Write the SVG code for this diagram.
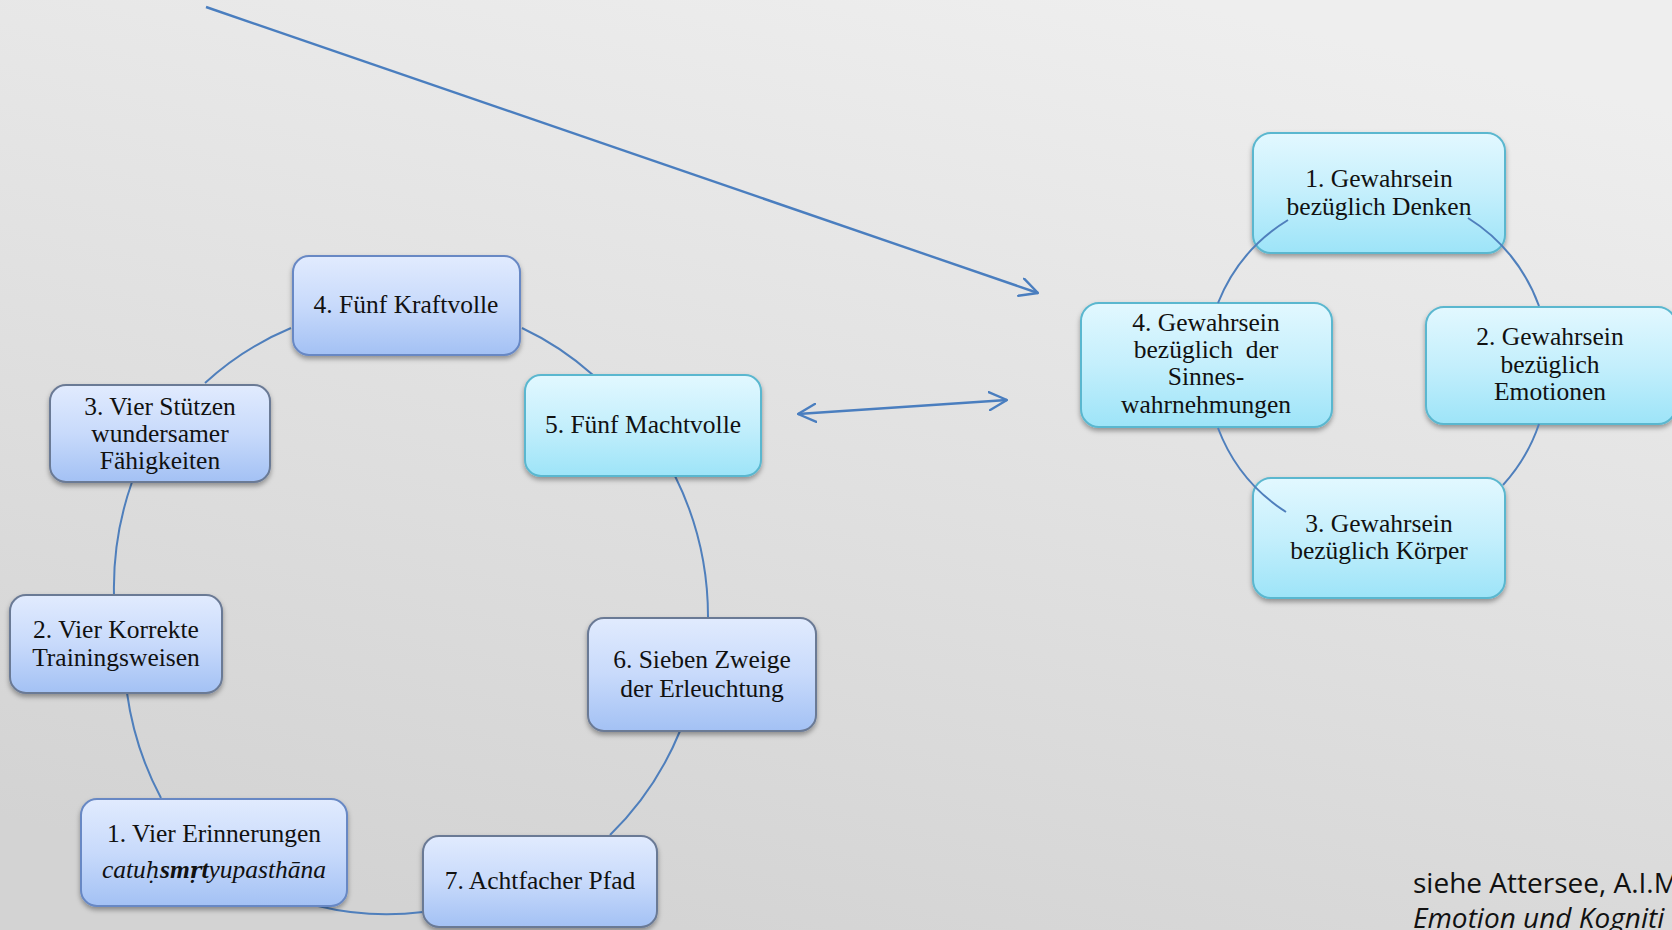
<svg xmlns="http://www.w3.org/2000/svg" width="1672" height="930" viewBox="0 0 1672 930">
<defs>
<linearGradient id="bg" x1="0.7" y1="0" x2="0.3" y2="1">
<stop offset="0" stop-color="#eeeeee"/>
<stop offset="1" stop-color="#d3d3d3"/>
</linearGradient>
<linearGradient id="gBlue" x1="0" y1="0" x2="0" y2="1">
<stop offset="0" stop-color="#e1ebfe"/>
<stop offset="0.5" stop-color="#c8dafb"/>
<stop offset="1" stop-color="#a3c1f4"/>
</linearGradient>
<linearGradient id="gCyan" x1="0" y1="0" x2="0" y2="1">
<stop offset="0" stop-color="#e2f8ff"/>
<stop offset="0.5" stop-color="#c4effc"/>
<stop offset="1" stop-color="#9de4f8"/>
</linearGradient>
<filter id="sh" x="-10%" y="-10%" width="120%" height="130%">
<feDropShadow dx="0" dy="3" stdDeviation="2.5" flood-color="#000" flood-opacity="0.35"/>
</filter>
<marker id="ah" viewBox="0 0 10 10" refX="9.4" refY="5" markerWidth="20" markerHeight="20" orient="auto-start-reverse" markerUnits="userSpaceOnUse">
<path d="M0.5,0.5 L9.4,5 L0.5,9.5" fill="none" stroke="#4a7ebf" stroke-width="1.2" stroke-linecap="round" stroke-linejoin="round"/>
</marker>
</defs>
<style>
.blue{fill:url(#gBlue);stroke:#6788c4;stroke-width:2;filter:url(#sh)}
.blueg{fill:url(#gBlue);stroke:#6b7a95;stroke-width:2;filter:url(#sh)}
.cyan{fill:url(#gCyan);stroke:#5ab7cf;stroke-width:2;filter:url(#sh)}
.t{font-family:"Liberation Serif","Times New Roman",serif;font-size:25.5px;fill:#111;text-anchor:middle}
.dia{font-family:"DejaVu Serif",serif;font-size:22px}
.con{fill:none;stroke:#4f7fbc;stroke-width:2}
.arr{fill:none;stroke:#4a7ebf;stroke-width:2.4}
.ref{font-family:"Open Sans","Liberation Sans",sans-serif;font-size:28px;fill:#111}
</style>
<rect x="0" y="0" width="1672" height="930" fill="url(#bg)"/>

<g id="connectors-left">
<path class="con" d="M205,383 A298,308 0 0 1 291,328"/>
<path class="con" d="M522,328 A298,308 0 0 1 593,375"/>
<path class="con" d="M675,476 A298,308 0 0 1 708,617"/>
<path class="con" d="M680,731 A298,308 0 0 1 610,835"/>
<path class="con" d="M423,912 A298,308 0 0 1 318,906"/>
<path class="con" d="M161,798 A298,308 0 0 1 127,693"/>
<path class="con" d="M114,595 A298,308 0 0 1 132,482"/>
</g>

<g id="n4">
<rect class="blue" x="293" y="256" width="227" height="99" rx="16"/>
<text class="t" x="406" y="313">4. Fünf Kraftvolle</text>
</g>
<g id="n3">
<rect class="blueg" x="50" y="385" width="220" height="97" rx="16"/>
<text class="t" x="160" y="415">3. Vier Stützen</text>
<text class="t" x="160" y="442">wundersamer</text>
<text class="t" x="160" y="469">Fähigkeiten</text>
</g>
<g id="n5">
<rect class="cyan" x="525" y="375" width="236" height="101" rx="16"/>
<text class="t" x="643" y="433">5. Fünf Machtvolle</text>
</g>
<g id="n2">
<rect class="blueg" x="10" y="595" width="212" height="98" rx="16"/>
<text class="t" x="116" y="638">2. Vier Korrekte</text>
<text class="t" x="116" y="666">Trainingsweisen</text>
</g>
<g id="n6">
<rect class="blueg" x="588" y="618" width="228" height="113" rx="16"/>
<text class="t" x="702" y="668">6. Sieben Zweige</text>
<text class="t" x="702" y="697">der Erleuchtung</text>
</g>
<g id="n1">
<rect class="blue" x="81" y="799" width="266" height="107" rx="16"/>
<text class="t" x="214" y="842">1. Vier Erinnerungen</text>
<text class="t" x="214" y="878" font-style="italic" font-size="26.5px">catu<tspan class="dia">ḥ</tspan><tspan font-weight="bold">sm<tspan class="dia">ṛ</tspan>t</tspan>yupasthāna</text>
</g>
<g id="n7">
<rect class="blueg" x="423" y="836" width="234" height="91" rx="16"/>
<text class="t" x="540" y="889">7. Achtfacher Pfad</text>
</g>

<g id="r1">
<rect class="cyan" x="1253" y="133" width="252" height="120" rx="18"/>
<text class="t" x="1379" y="187">1. Gewahrsein</text>
<text class="t" x="1379" y="215">bezüglich Denken</text>
</g>
<g id="r2">
<rect class="cyan" x="1426" y="307" width="250" height="117" rx="18"/>
<text class="t" x="1550" y="345">2. Gewahrsein</text>
<text class="t" x="1550" y="373">bezüglich</text>
<text class="t" x="1550" y="400">Emotionen</text>
</g>
<g id="r3">
<rect class="cyan" x="1253" y="478" width="252" height="120" rx="18"/>
<text class="t" x="1379" y="532">3. Gewahrsein</text>
<text class="t" x="1379" y="559">bezüglich Körper</text>
</g>
<g id="r4">
<rect class="cyan" x="1081" y="303" width="251" height="124" rx="18"/>
<text class="t" x="1206" y="331">4. Gewahrsein</text>
<text class="t" x="1206" y="358" xml:space="preserve">bezüglich  der</text>
<text class="t" x="1206" y="385">Sinnes-</text>
<text class="t" x="1206" y="413">wahrnehmungen</text>
</g>

<g id="connectors-right">
<path class="con" d="M1468,218 A172,172 0 0 1 1539,306"/>
<path class="con" d="M1539,424 A172,172 0 0 1 1503,485"/>
<path class="con" d="M1286,512 A172,172 0 0 1 1218,428"/>
<path class="con" d="M1218,303 A172,172 0 0 1 1288,220"/>
</g>

<g id="arrows">
<line class="arr" x1="206" y1="7" x2="1038" y2="293" marker-end="url(#ah)"/>
<line class="arr" x1="798" y1="414" x2="1007" y2="400" marker-start="url(#ah)" marker-end="url(#ah)"/>
</g>

<g id="reference">
<text class="ref" x="1413" y="893">siehe Attersee, A.I.M</text>
<text class="ref" x="1413" y="928" font-style="italic">Emotion und Kogniti</text>
</g>
</svg>
